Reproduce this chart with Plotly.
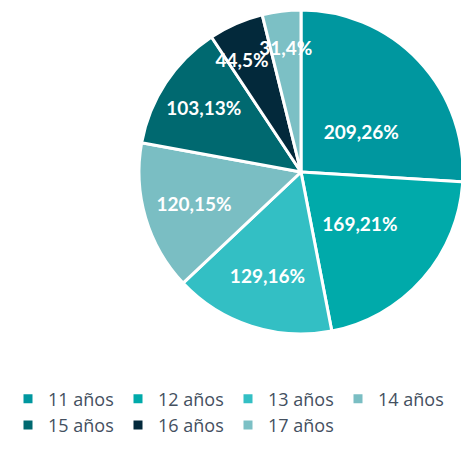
import plotly.graph_objects as go

categories = ["11 años", "12 años", "13 años", "14 años", "15 años", "16 años", "17 años"]
values = [209, 169, 129, 120, 103, 44, 31]
colors = ["#00979F", "#00AAAA", "#33BFC4", "#7ABEC3", "#006970", "#03293B", "#7CC0C5"]

# the page body adds an 8px offset; positions below are figure coordinates
W, H = 469, 456
cx, cy, R = 293, 164, 162
# (relative radius, dx, dy) of the invisible pie layer that carries each slice's label
label_layer = [(0.78, 7, 10), (0.78, 0, 0), (1.0, 0, 0), (1.0, 0, 0),
               (1.0, 0, 0), (0.97, -5, 10), (0.87, 0, 0)]

def dom(radius, dx=0, dy=0):
    x0, y0 = cx + dx, cy + dy
    return dict(x=[(x0 - radius) / W, (x0 + radius) / W],
                y=[1 - (y0 + radius) / H, 1 - (y0 - radius) / H])

tmpl = "%{value},%{percent:.0%}"
font = dict(family="Lato", size=19, color="white", weight="bold")

fig = go.Figure()
fig.add_trace(go.Pie(
    labels=categories,
    values=values,
    sort=False,
    direction="clockwise",
    rotation=0,
    marker=dict(colors=colors, line=dict(color="white", width=3)),
    textinfo="none",
    domain=dom(R),
    hoverinfo="label+value+percent",
))
for layer in sorted(set(label_layer), reverse=True):
    scale, dx, dy = layer
    fig.add_trace(go.Pie(
        labels=categories,
        values=values,
        sort=False,
        direction="clockwise",
        rotation=0,
        marker=dict(colors=["rgba(0,0,0,0)"] * len(values), line=dict(width=0)),
        texttemplate=[tmpl if l == layer else "" for l in label_layer],
        textposition="inside",
        insidetextorientation="horizontal",
        textfont=font,
        domain=dom(R * scale, dx, dy),
        showlegend=False,
        hoverinfo="skip",
    ))

fig.update_layout(
    width=W, height=H,
    margin=dict(l=0, r=0, t=0, b=0),
    paper_bgcolor="white",
    plot_bgcolor="white",
    uniformtext=dict(mode="show", minsize=19),
    showlegend=True,
    legend=dict(
        orientation="h",
        x=0.0, y=0.045,
        xanchor="left", yanchor="bottom",
        entrywidth=65, entrywidthmode="pixels",
        font=dict(family="Open Sans", size=18, color="#44505F"),
        traceorder="normal",
    ),
)

fig.write_html("out.html")
